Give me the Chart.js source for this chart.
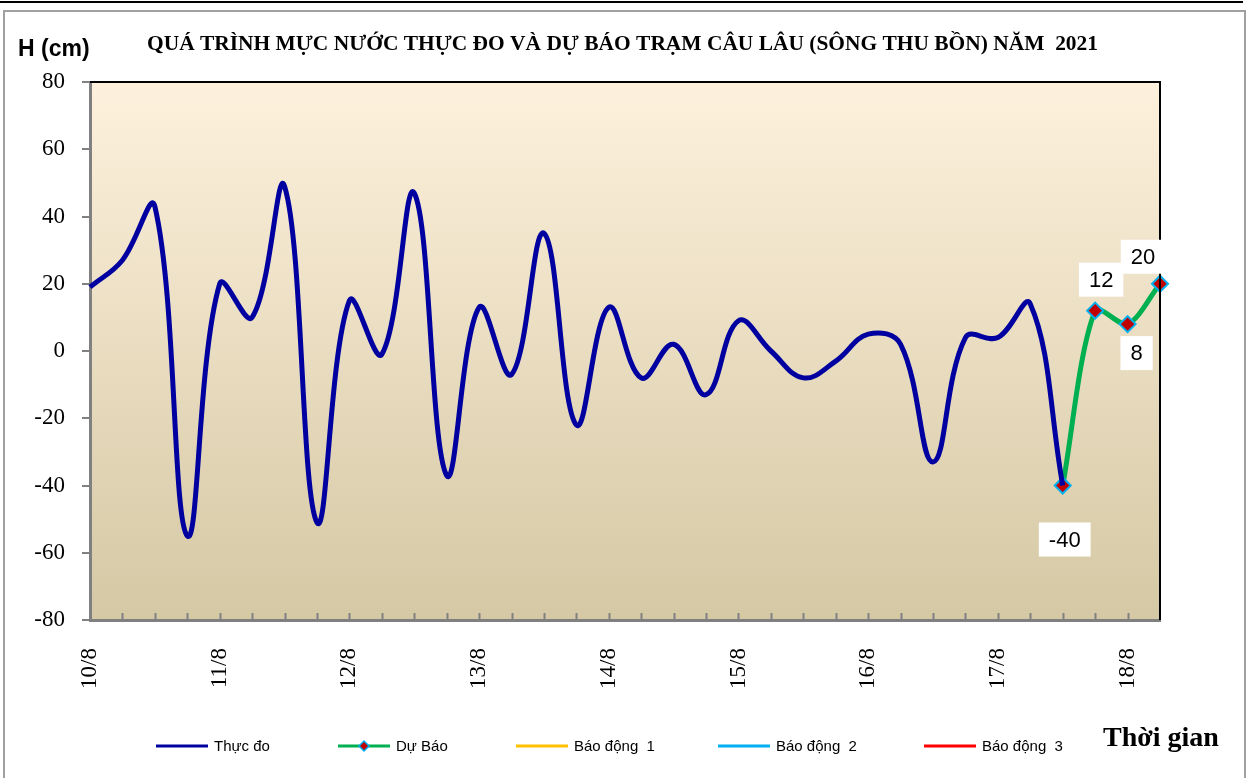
<!DOCTYPE html>
<html>
<head>
<meta charset="utf-8">
<script src="https://cdn.jsdelivr.net/npm/chart.js@4.4.0/dist/chart.umd.min.js"></script>
<style>
  html, body { margin: 0; padding: 0; background: #fff; }
</style>
</head>
<body>
<canvas id="chart" width="1249" height="778"></canvas>
<script>
// 4 readings per day, 10/8 -> 18/8 (+1 slot)
const categories = [
  '10/8', '', '', '',
  '11/8', '', '', '',
  '12/8', '', '', '',
  '13/8', '', '', '',
  '14/8', '', '', '',
  '15/8', '', '', '',
  '16/8', '', '', '',
  '17/8', '', '', '',
  '18/8', ''
];

// H (cm)
const thucDo = [
  19, 27, 43, -55,
  20, 10, 49, -51,
  15, -1, 47, -37,
  13, -7, 35, -22,
  13, -8, 2, -13,
  9, 0, -8, -3,
  5, 2, -33, 4,
  4, 14, -40, null,
  null, null
];

const duBao = [
  null, null, null, null,
  null, null, null, null,
  null, null, null, null,
  null, null, null, null,
  null, null, null, null,
  null, null, null, null,
  null, null, null, null,
  null, null, -40, 12,
  8, 20
];

const yTicks = { min: -80, max: 80, step: 20 };

const titleText = 'QUÁ TRÌNH MỰC NƯỚC THỰC ĐO VÀ DỰ BÁO TRẠM CÂU LÂU (SÔNG THU BỒN) NĂM  2021';

// offsets of the value boxes from their point (px)
const labelOffsets = { 30: [2, 54], 31: [6, -31], 32: [9, 29], 33: [-17, -27] };

const serif = '"Liberation Serif", "Times New Roman", serif';
const sans = '"Liberation Sans", Arial, sans-serif';

const decor = {
  id: 'decor',
  beforeDraw(chart) {
    const { ctx, chartArea: a } = chart;
    ctx.save();
    ctx.fillStyle = '#fff';
    ctx.fillRect(0, 0, chart.width, chart.height);
    // page rule + frame
    ctx.fillStyle = '#000';
    ctx.fillRect(0, 1, 1243, 2);
    ctx.strokeStyle = '#a0a0a0';
    ctx.lineWidth = 2;
    ctx.strokeRect(4, 11, 1241, 800);
    // plot background
    const g = ctx.createLinearGradient(0, a.top, 0, a.bottom);
    g.addColorStop(0, '#FDF1DD');
    g.addColorStop(1, '#D5C8A4');
    ctx.fillStyle = g;
    ctx.fillRect(a.left, a.top, a.right - a.left, a.bottom - a.top);
    ctx.restore();
  },
  afterDatasetsDraw(chart) {
    const { ctx, chartArea: a } = chart;
    const x = chart.scales.x;
    ctx.save();
    // top / right border
    ctx.strokeStyle = '#000';
    ctx.lineWidth = 2;
    ctx.beginPath();
    ctx.moveTo(a.left, a.top);
    ctx.lineTo(a.right, a.top);
    ctx.lineTo(a.right, a.bottom);
    ctx.stroke();
    // inward ticks on the time axis
    ctx.strokeStyle = '#808080';
    ctx.lineWidth = 2;
    ctx.beginPath();
    for (let i = 1; i < categories.length - 1; i++) {
      const px = Math.round(x.getPixelForValue(i)) + 0.5;
      ctx.moveTo(px, a.bottom);
      ctx.lineTo(px, a.bottom - 7);
    }
    ctx.stroke();

    // value boxes on the forecast
    const meta = chart.getDatasetMeta(1);
    ctx.font = '22px ' + sans;
    ctx.textAlign = 'center';
    ctx.textBaseline = 'middle';
    duBao.forEach((v, i) => {
      if (v === null) return;
      const p = meta.data[i];
      const off = labelOffsets[i] || [0, -30];
      const cx = p.x + off[0], cy = p.y + off[1];
      const t = String(v);
      const w = ctx.measureText(t).width + 20;
      ctx.fillStyle = '#fff';
      ctx.fillRect(cx - w / 2, cy - 17, w, 34);
      ctx.fillStyle = '#000';
      ctx.fillText(t, cx, cy + 1);
    });

    // title and axis names
    ctx.fillStyle = '#000';
    ctx.font = 'bold 21px ' + serif;
    ctx.textAlign = 'left';
    ctx.textBaseline = 'alphabetic';
    const tw = ctx.measureText(titleText).width;
    const target = 951;
    ctx.save();
    ctx.translate(147, 50);
    ctx.scale(target / tw, 1);
    ctx.fillText(titleText, 0, 0);
    ctx.restore();

    ctx.font = 'bold 23px ' + sans;
    ctx.fillText('H (cm)', 18, 56);

    ctx.font = 'bold 28px ' + serif;
    ctx.fillText('Thời gian', 1103, 746);

    // legend
    const starts = [156, 338, 516, 718, 924];
    const ly = 746;
    ctx.font = '15px ' + sans;
    ctx.textBaseline = 'middle';
    chart.data.datasets.forEach((ds, k) => {
      const sx = starts[k];
      ctx.strokeStyle = ds.borderColor;
      ctx.lineWidth = 3;
      ctx.beginPath();
      ctx.moveTo(sx, ly);
      ctx.lineTo(sx + 52, ly);
      ctx.stroke();
      if (ds.pointRadius > 0) {
        const cx = sx + 26;
        ctx.fillStyle = ds.pointBackgroundColor;
        ctx.strokeStyle = ds.pointBorderColor;
        ctx.lineWidth = 1.5;
        ctx.beginPath();
        ctx.moveTo(cx, ly - 5);
        ctx.lineTo(cx + 5, ly);
        ctx.lineTo(cx, ly + 5);
        ctx.lineTo(cx - 5, ly);
        ctx.closePath();
        ctx.fill();
        ctx.stroke();
      }
      ctx.fillStyle = '#000';
      ctx.textAlign = 'left';
      ctx.fillText(ds.label, sx + 58, ly + 1);
    });
    ctx.restore();
  }
};

new Chart(document.getElementById('chart'), {
  type: 'line',
  data: {
    labels: categories,
    datasets: [
      {
        label: 'Thực đo',
        data: thucDo,
        borderColor: '#0000A0',
        borderWidth: 5,
        pointRadius: 0,
        tension: 0.4
      },
      {
        label: 'Dự Báo',
        data: duBao,
        borderColor: '#00B050',
        borderWidth: 5,
        pointStyle: 'rectRot',
        pointRadius: 8,
        pointBackgroundColor: '#C00000',
        pointBorderColor: '#00B0F0',
        pointBorderWidth: 2,
        tension: 0.3
      },
      { label: 'Báo động  1', data: [], borderColor: '#FFC000', pointRadius: 0 },
      { label: 'Báo động  2', data: [], borderColor: '#00B0F0', pointRadius: 0 },
      { label: 'Báo động  3', data: [], borderColor: '#FF0000', pointRadius: 0 }
    ]
  },
  options: {
    responsive: false,
    animation: false,
    layout: { padding: { top: 82, right: 89, left: 0, bottom: 0 } },
    plugins: {
      legend: { display: false },
      title: { display: false },
      tooltip: { enabled: false }
    },
    scales: {
      x: {
        grid: { display: false },
        border: { color: '#808080', width: 3 },
        ticks: {
          autoSkip: false,
          maxRotation: 90,
          minRotation: 90,
          padding: 20,
          color: '#000',
          font: { family: serif, size: 23 }
        },
        afterFit(s) { s.height = 158; }
      },
      y: {
        min: yTicks.min,
        max: yTicks.max,
        ticks: {
          stepSize: yTicks.step,
          padding: 17,
          color: '#000',
          font: { family: serif, size: 23 }
        },
        grid: { drawOnChartArea: false, tickLength: 8, color: '#808080', lineWidth: 2 },
        border: { color: '#808080', width: 3 },
        afterFit(s) { s.width = 90; }
      }
    }
  },
  plugins: [decor]
});
</script>
</body>
</html>
